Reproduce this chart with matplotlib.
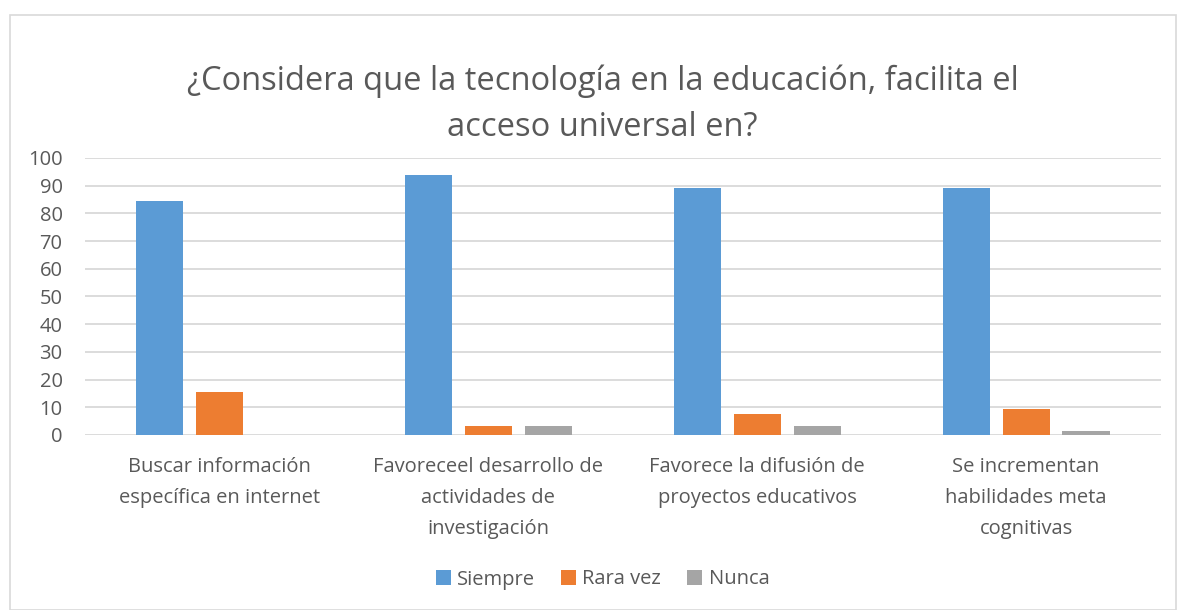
import numpy as np
import matplotlib
matplotlib.use("Agg")
import matplotlib.pyplot as plt
from matplotlib.patches import Rectangle

categorias = ["Buscar información\nespecífica en internet",
              "Favoreceel desarrollo de\nactividades de\ninvestigación",
              "Favorece la difusión de\nproyectos educativos",
              "Se incrementan\nhabilidades meta\ncognitivas"]
siempre = [84.6, 93.8, 89.2, 89.2]
rara_vez = [15.4, 3.1, 7.7, 9.2]
nunca = [0, 3.1, 3.1, 1.5]
series = ["Siempre", "Rara vez", "Nunca"]
colores = ["#5B9BD5", "#ED7D31", "#A5A5A5"]

plt.rcParams['font.family'] = ['Open Sans', 'DejaVu Sans']
texto = "#595959"

fig = plt.figure(figsize=(11.77, 6.10), dpi=100)
ax = fig.add_axes([0.072, 0.287, 0.914, 0.454])

x = np.arange(len(categorias))
ancho = 0.175
paso = 0.223
for i, (vals, nombre, c) in enumerate(zip([siempre, rara_vez, nunca], series, colores)):
    ax.bar(x + (i - 1) * paso, vals, ancho, color=c, label=nombre, zorder=3)

ax.set_ylim(0, 100)
ax.set_xlim(-0.5, len(categorias) - 0.5)
ax.set_yticks(range(0, 101, 10))
ax.yaxis.grid(True, color="#D9D9D9", linewidth=1.3, zorder=0)
for s in ax.spines.values():
    s.set_visible(False)
ax.tick_params(axis="both", length=0, labelsize=14.5, labelcolor=texto)
ax.tick_params(axis="y", pad=16)
ax.set_xticks(x)
ax.set_xticklabels(categorias, linespacing=1.72)
ax.tick_params(axis="x", pad=16)

fig.text(0.512, 0.829, "¿Considera que la tecnología en la educación, facilita el\nacceso universal en?",
         ha="center", va="center", fontsize=23.5, color=texto, linespacing=1.55)

ax.legend(loc="center", bbox_to_anchor=(0.512, 0.05), bbox_transform=fig.transFigure,
          ncol=3, frameon=False, fontsize=14.5, labelcolor=texto,
          handlelength=0.75, handleheight=0.75, handletextpad=0.3, columnspacing=1.3)

fig.patches.append(Rectangle((10 / 1177, 0.0), 1 - 10 / 1177 - 0.001, 1 - 15 / 610,
                             transform=fig.transFigure, fill=False,
                             edgecolor="#D9D9D9", linewidth=1.2))

fig.savefig("out.png", dpi=100)
